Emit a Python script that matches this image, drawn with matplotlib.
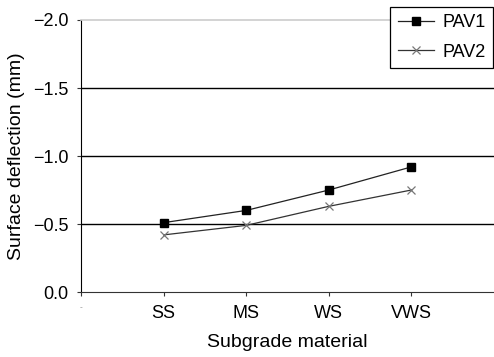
import matplotlib.pyplot as plt
import numpy as np

plt.rcParams['font.family'] = ['Liberation Sans', 'DejaVu Sans']

categories = ['SS', 'MS', 'WS', 'VWS']
pav1 = [-0.51, -0.60, -0.75, -0.92]
pav2 = [-0.42, -0.49, -0.63, -0.75]
y_ticks = [0.0, -0.5, -1.0, -1.5, -2.0]

fig = plt.figure(figsize=(4.94, 3.57), dpi=100)
ax = fig.add_axes([0.164, 0.182, 0.836, 0.762])

x = np.arange(1, len(categories) + 1)

# horizontal grid lines
for v in y_ticks[1:-1]:
    ax.axhline(v, color='black', lw=1.0, zorder=1)

ax.plot(x, pav1, color='#222222', lw=0.9, marker='s', markersize=5.5,
        markerfacecolor='black', markeredgecolor='black', label='PAV1', zorder=3)
ax.plot(x, pav2, color='#333333', lw=0.9, marker='x', markersize=6,
        markeredgecolor='#777777', markeredgewidth=0.9, label='PAV2', zorder=3)

ax.set_xlim(0, 5)
ax.set_ylim(0.0, -2.0)
ax.set_yticks(y_ticks)
ax.set_yticklabels([f'{v:.1f}'.replace('-', '\u2212') for v in y_ticks], fontsize=13)
ax.set_xticks([0] + list(x))
ax.set_xticklabels(['-'] + categories, fontsize=13)
ax.get_xticklabels()[0].set_fontsize(6)
ax.get_xticklabels()[0].set_color('#888888')
ax.tick_params(axis='both', length=3, width=0.8, color='#333333', pad=6)

ax.spines['right'].set_visible(False)
ax.spines['top'].set_color('#cccccc')
ax.spines['top'].set_linewidth(1.2)
ax.spines['left'].set_color('black')
ax.spines['bottom'].set_color('#333333')

ax.set_xlabel('Subgrade material', fontsize=14, labelpad=9)
ax.set_ylabel('Surface deflection (mm)', fontsize=14, labelpad=6)

leg = ax.legend(loc='upper right', bbox_to_anchor=(0.998, 1.048), borderaxespad=0,
                fontsize=13, frameon=True, fancybox=False, edgecolor='black',
                framealpha=1, handlelength=2.0, borderpad=0.4, labelspacing=0.7,
                handletextpad=0.5)
leg.get_frame().set_linewidth(0.9)

fig.savefig('out.png', dpi=100)
